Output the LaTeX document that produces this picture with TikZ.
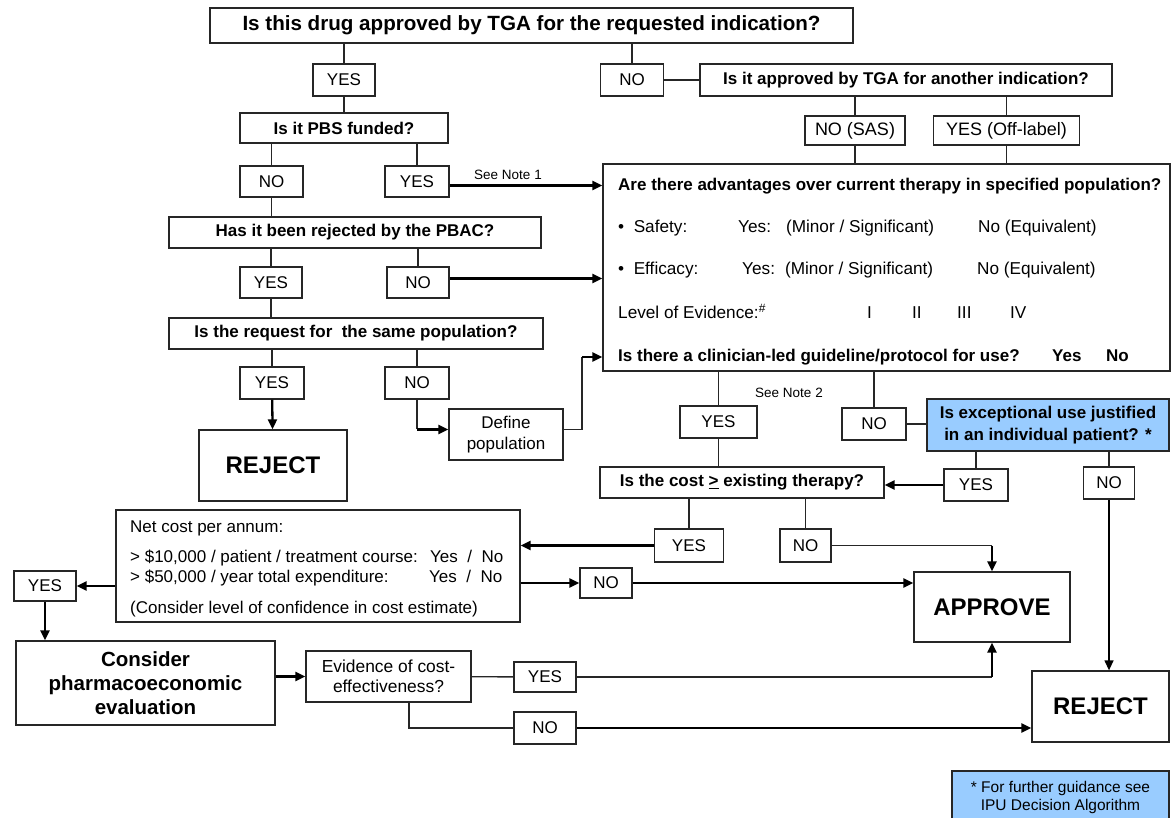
\documentclass[tikz,border=0pt]{standalone}
\usepackage{fontspec}
\setmainfont{Liberation Sans}
\usepackage{xcolor}
\usetikzlibrary{arrows.meta}
\definecolor{ipublue}{RGB}{153,204,255}

\begin{document}
\begin{tikzpicture}[
        x=1pt, y=-1pt,
        box/.style={
            rectangle,
            draw=black!85,
            line width=1.3pt,
            inner sep=0pt,
            align=center
        },
        question/.style={box, font=\fontsize{17}{21}\selectfont\bfseries},
        answer/.style={box, font=\fontsize{17}{20}\selectfont},
        result/.style={box, font=\fontsize{24}{28}\selectfont\bfseries},
        special/.style={box, fill=ipublue},
        plain/.style={inner sep=0pt, font=\fontsize{17.2}{20}\selectfont},
        head/.style={inner sep=0pt, font=\fontsize{17}{20}\selectfont\bfseries},
        small/.style={inner sep=0pt, font=\fontsize{13.5}{15}\selectfont},
        line/.style={draw=black!85, line width=1.3pt},
        arrow/.style={-{Triangle[length=10pt,width=9pt]}, line width=2.3pt, draw=black},
        thinarrow/.style={-{Triangle[length=10pt,width=9pt]}, line width=1.3pt, draw=black}
    ]
    \useasboundingbox (0,0) rectangle (1171,818);

    % first questions
    \node (q1) [question, minimum width=643pt, minimum height=35pt, font=\fontsize{20.6}{24}\selectfont\bfseries] at (531.5,25.5) {Is this drug approved by TGA for the requested indication?};
    \node (yes1) [answer, minimum width=62pt, minimum height=32pt] at (344,80) {YES};
    \node (no1) [answer, minimum width=63pt, minimum height=32pt] at (632,80) {NO};
    \node (q2) [question, minimum width=412pt, minimum height=32pt] at (906,80) {Is it approved by TGA for another indication?};
    \node (nosas) [answer, minimum width=100pt, minimum height=29pt, font=\fontsize{18}{20}\selectfont] at (855,130.5) {NO (SAS)};
    \node (yesoff) [answer, minimum width=146pt, minimum height=29pt, font=\fontsize{18}{20}\selectfont] at (1006.5,130.5) {YES (Off-label)};

    % PBS branch
    \node (pbs) [question, minimum width=208pt, minimum height=30pt] at (344,128) {Is it PBS funded?};
    \node (no2) [answer, minimum width=63pt, minimum height=31pt] at (271.5,181.5) {NO};
    \node (yes2) [answer, minimum width=64pt, minimum height=31pt] at (417,181.5) {YES};
    \node (seenote1) [small] at (508,175) {See Note 1};
    \node (pbac) [question, minimum width=372pt, minimum height=31pt] at (355,232.5) {Has it been rejected by the PBAC?};
    \node (yes3) [answer, minimum width=62pt, minimum height=31pt] at (271,282.5) {YES};
    \node (no3) [answer, minimum width=62pt, minimum height=31pt] at (418,282.5) {NO};
    \node (samepop) [question, minimum width=374pt, minimum height=31pt] at (356,333.5) {Is the request for\ \ the same population?};
    \node (yes4) [answer, minimum width=64pt, minimum height=32pt] at (272,383) {YES};
    \node (no4) [answer, minimum width=64pt, minimum height=32pt] at (417,383) {NO};
    \node (reject1) [result, minimum width=148pt, minimum height=71pt] at (273,465.5) {REJECT};
    \node (defpop) [answer, minimum width=114pt, minimum height=51pt, font=\fontsize{17}{21}\selectfont] at (506,434.5) {Define\\population};

    % advantages box
    \node (bigbox) [box, minimum width=567pt, minimum height=207pt] at (886.5,267.5) {};
    \node (adv) [head, anchor=base west] at (618,191) {Are there advantages over current therapy in specified population?};
    \node (safety) [plain, anchor=base west] at (618,233) {\textbullet\ \ Safety:};
    \node (safetyyes) [plain, anchor=base west] at (738,233) {Yes:\hspace{15pt}(Minor / Significant)};
    \node (safetyno) [plain, anchor=base west] at (978,233) {No (Equivalent)};
    \node (efficacy) [plain, anchor=base west] at (618,275) {\textbullet\ \ Efficacy:};
    \node (efficacyyes) [plain, anchor=base west] at (742,275) {Yes:\hspace{10pt}(Minor / Significant)};
    \node (efficacyno) [plain, anchor=base west] at (977,275) {No (Equivalent)};
    \node (level) [plain, anchor=base west] at (618,319) {Level of Evidence:\textsuperscript{\#}};
    \node (levI) [plain, anchor=base west] at (867,319) {I};
    \node (levII) [plain, anchor=base west] at (912,319) {II};
    \node (levIII) [plain, anchor=base west] at (957,319) {III};
    \node (levIV) [plain, anchor=base west] at (1010,319) {IV};
    \node (guide) [head, anchor=base west] at (618,362) {Is there a clinician-led guideline/protocol for use?};
    \node (guideyes) [head, anchor=base west] at (1052,362) {Yes};
    \node (guideno) [head, anchor=base west] at (1106,362) {No};

    % cost questions
    \node (yes5) [answer, minimum width=77pt, minimum height=32pt] at (718.5,422) {YES};
    \node (seenote2) [small] at (789,393) {See Note 2};
    \node (no5) [answer, minimum width=64pt, minimum height=32pt] at (874,424) {NO};
    \node (except) [special, minimum width=242pt, minimum height=52pt, font=\fontsize{17}{22}\selectfont\bfseries] at (1048,425) {Is exceptional use justified\\in an individual patient? *};
    \node (cost) [question, minimum width=284pt, minimum height=31pt] at (742,482.5) {Is the cost \underline{>} existing therapy?};
    \node (yes6) [answer, minimum width=64pt, minimum height=32pt] at (976,485) {YES};
    \node (no6) [answer, minimum width=51pt, minimum height=32pt] at (1109,483) {NO};
    \node (yes7) [answer, minimum width=69pt, minimum height=33pt] at (689,545.5) {YES};
    \node (no7) [answer, minimum width=51pt, minimum height=33pt] at (805.5,545.5) {NO};
    \node (approve) [result, minimum width=156pt, minimum height=70pt] at (992,607) {APPROVE};

    % net cost
    \node (netcost) [box, minimum width=404pt, minimum height=112pt] at (318,566) {};
    \node (net1) [plain, anchor=base west, font=\fontsize{17}{20}\selectfont] at (130,532) {Net cost per annum:};
    \node (net2) [plain, anchor=base west, font=\fontsize{17}{20}\selectfont] at (130,562) {> \$10,000 / patient / treatment course:};
    \node (net2yn) [plain, anchor=base west, font=\fontsize{17}{20}\selectfont] at (430,562) {Yes\ \ /\ \ No};
    \node (net3) [plain, anchor=base west, font=\fontsize{17}{20}\selectfont] at (130,582) {> \$50,000 / year total expenditure:};
    \node (net3yn) [plain, anchor=base west, font=\fontsize{17}{20}\selectfont] at (429,582) {Yes\ \ /\ \ No};
    \node (net4) [plain, anchor=base west, font=\fontsize{17}{20}\selectfont] at (130,613) {(Consider level of confidence in cost estimate)};
    \node (no8) [answer, minimum width=52pt, minimum height=30pt] at (606,583) {NO};
    \node (yes8) [answer, minimum width=62pt, minimum height=30pt] at (45,586) {YES};
    \node (consider) [box, minimum width=259pt, minimum height=84pt, font=\fontsize{20.5}{24}\selectfont\bfseries] at (145.5,683) {Consider\\pharmacoeconomic\\evaluation};
    \node (evid) [answer, minimum width=165pt, minimum height=51pt, font=\fontsize{17.4}{19.5}\selectfont] at (388.5,676.5) {Evidence of cost-\\effectiveness?};
    \node (yes9) [answer, minimum width=62pt, minimum height=30pt] at (545,677) {YES};
    \node (no9) [answer, minimum width=62pt, minimum height=32pt] at (545,728) {NO};
    \node (reject2) [result, minimum width=137pt, minimum height=71pt] at (1100.5,706.5) {REJECT};
    \node (ipunote) [special, minimum width=217pt, minimum height=52pt, font=\fontsize{15.5}{18}\selectfont] at (1060.5,797) {* For further guidance see\\IPU Decision Algorithm};

    % connectors
    \draw [line] (q1.south -| yes1) -- (yes1);
    \draw [line] (q1.south -| no1) -- (no1);
    \draw [line] (no1) -- (q2);
    \draw [line] (yes1) -- (pbs);
    \draw [line] (q2.south -| nosas) -- (nosas);
    \draw [line] (q2.south -| yesoff) -- (yesoff);
    \draw [line] (nosas) -- (nosas |- bigbox.north);
    \draw [line] (yesoff) -- (yesoff |- bigbox.north);
    \draw [line] (pbs.south -| no2) -- (no2);
    \draw [line] (pbs.south -| yes2) -- (yes2);
    \coordinate (yes2out) at ([yshift=-4pt]yes2.east);
    \draw [arrow] (yes2out) -- (yes2out -| bigbox.west);
    \draw [line] (no2) -- (no2 |- pbac.north);
    \draw [line] (pbac.south -| yes3) -- (yes3);
    \draw [line] (pbac.south -| no3) -- (no3);
    \coordinate (no3out) at ([yshift=4pt]no3.east);
    \draw [arrow] (no3out) -- (no3out -| bigbox.west);
    \draw [line] (yes3) -- (yes3 |- samepop.north);
    \draw [line] (samepop.south -| yes4) -- (yes4);
    \draw [line] (samepop.south -| no4) -- (no4);
    \draw [arrow] (yes4) -- (reject1);
    \coordinate (defin) at ([yshift=5pt]defpop.west);
    \coordinate (defout) at ([yshift=5pt]defpop.east);
    \draw [line] (no4) -- (no4 |- defin);
    \draw [arrow] (no4 |- defin) -- (defin);
    \coordinate (bend1) at (582,357);
    \draw [line] (defout) -| (bend1);
    \draw [arrow] (bend1) -- (bend1 -| bigbox.west);
    \draw [line] (bigbox.south -| yes5) -- (yes5);
    \draw [line] (bigbox.south -| no5) -- (no5);
    \draw [line] (no5) -- (no5 -| except.west);
    \draw [line] (yes5) -- (yes5 |- cost.north);
    \draw [line] (except.south -| yes6) -- (yes6);
    \draw [line] (except.south -| no6) -- (no6);
    \draw [arrow] (yes6) -- (yes6 -| cost.east);
    \draw [thinarrow] (no6) -- (no6 |- reject2.north);
    \draw [line] (cost.south -| yes7) -- (yes7);
    \draw [line] (cost.south -| no7) -- (no7);
    \draw [arrow] (yes7) -- (yes7 -| netcost.east);
    \draw [line] (no7) -- (no7 -| approve.north);
    \draw [arrow] (no7 -| approve.north) -- (approve);
    \draw [arrow] (netcost.east |- no8) -- (no8);
    \draw [arrow] (no8) -- (no8 -| approve.west);
    \draw [arrow] (netcost.west |- yes8) -- (yes8);
    \draw [arrow] (yes8) -- (yes8 |- consider.north);
    \draw [arrow] (consider.east |- evid) -- (evid);
    \draw [line] (evid) -- (yes9);
    \draw [line] (yes9) -- (yes9 -| approve.south);
    \draw [arrow] (yes9 -| approve.south) -- (approve);
    \coordinate (bend2) at (409,728);
    \draw [line] (bend2 |- evid.south) -- (bend2) -- (no9);
    \draw [arrow] (no9) -- (no9 -| reject2.west);

\end{tikzpicture}
\end{document}
